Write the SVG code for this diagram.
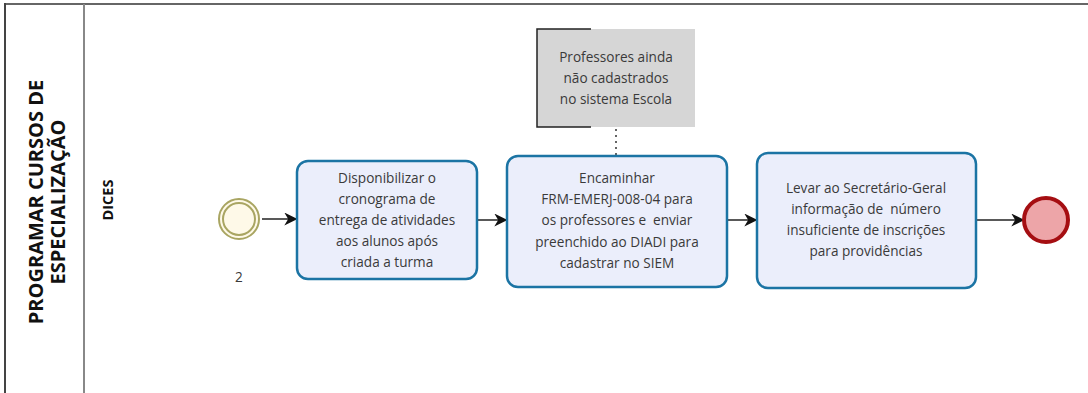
<svg xmlns="http://www.w3.org/2000/svg" width="1088" height="393" viewBox="0 0 1088 393">
<defs>
<style>
.t{font-family:"Open Sans","Noto Sans",sans-serif;font-size:13.6px;fill:#3a3a3a;text-anchor:middle;white-space:pre}
.task{fill:#EBEEFB;stroke:#1B74A4;stroke-width:2.5}
.hdr{font-family:"Open Sans","Noto Sans",sans-serif;font-weight:bold;fill:#111;text-anchor:middle}
.flow{stroke:#222;stroke-width:1.5;fill:none;marker-end:url(#arr)}
</style>
<marker id="arr" viewBox="0 0 10 10" refX="9" refY="5" markerWidth="13" markerHeight="13" markerUnits="userSpaceOnUse" orient="auto">
<path d="M0,0 L10,5 L0,10 L3,5 Z" fill="#111"/>
</marker>
</defs>
<rect width="1088" height="393" fill="#fff"/>
<g id="pool">
<line x1="5" y1="4" x2="1088" y2="4" stroke="#666" stroke-width="2"/>
<line x1="5" y1="3" x2="5" y2="393" stroke="#444" stroke-width="2"/>
<line x1="84" y1="4" x2="84" y2="393" stroke="#888" stroke-width="2"/>
<text class="hdr" font-size="20" transform="translate(44,202) rotate(-90)"><tspan x="0" y="-1">PROGRAMAR CURSOS DE</tspan><tspan x="0" y="21">ESPECIALIZAÇÃO</tspan></text>
<text class="hdr" font-size="14.5" transform="translate(113,200) rotate(-90)">DICES</text>
</g>
<g id="connectors">
<line class="flow" x1="262" y1="219" x2="296" y2="219"/>
<line class="flow" x1="478" y1="220" x2="506" y2="220"/>
<line class="flow" x1="727" y1="220" x2="756" y2="220"/>
<line class="flow" x1="977" y1="220" x2="1023" y2="220"/>
<line x1="616" y1="129" x2="616" y2="155" stroke="#333" stroke-width="1.5" stroke-dasharray="2,4"/>
</g>
<g id="start">
<circle cx="239" cy="219" r="20" fill="#FEF9E8" stroke="#A9A562" stroke-width="2"/>
<circle cx="239" cy="219" r="16" fill="none" stroke="#A9A562" stroke-width="2"/>
<text class="t" x="239" y="282">2</text>
</g>
<g id="task1">
<rect class="task" x="297" y="161" width="180" height="118" rx="11"/>
<text class="t"><tspan x="387" y="183">Disponibilizar o</tspan><tspan x="387" y="204">cronograma de</tspan><tspan x="387" y="225">entrega de atividades</tspan><tspan x="387" y="246">aos alunos após</tspan><tspan x="387" y="267">criada a turma</tspan></text>
</g>
<g id="annotation">
<rect x="537" y="29" width="158" height="98" fill="#D6D6D6"/>
<path d="M591,29 H537 V127 H591" fill="none" stroke="#222" stroke-width="1.5"/>
<text class="t"><tspan x="616" y="62">Professores ainda</tspan><tspan x="616" y="83">não cadastrados</tspan><tspan x="616" y="104">no sistema Escola</tspan></text>
</g>
<g id="task2">
<rect class="task" x="507" y="156" width="220" height="131" rx="11"/>
<text class="t"><tspan x="617" y="183">Encaminhar</tspan><tspan x="617" y="204">FRM-EMERJ-008-04 para</tspan><tspan x="617" y="225">os professores e  enviar</tspan><tspan x="617" y="247">preenchido ao DIADI para</tspan><tspan x="617" y="268">cadastrar no SIEM</tspan></text>
</g>
<g id="task3">
<rect class="task" x="757" y="153" width="219" height="135" rx="11"/>
<text class="t"><tspan x="866" y="193">Levar ao Secretário-Geral</tspan><tspan x="866" y="214">informação de  número</tspan><tspan x="866" y="235">insuficiente de inscrições</tspan><tspan x="866" y="256">para providências</tspan></text>
</g>
<g id="end">
<circle cx="1046" cy="220" r="22" fill="#EDA5A8" stroke="#A50E12" stroke-width="4"/>
</g>
</svg>
